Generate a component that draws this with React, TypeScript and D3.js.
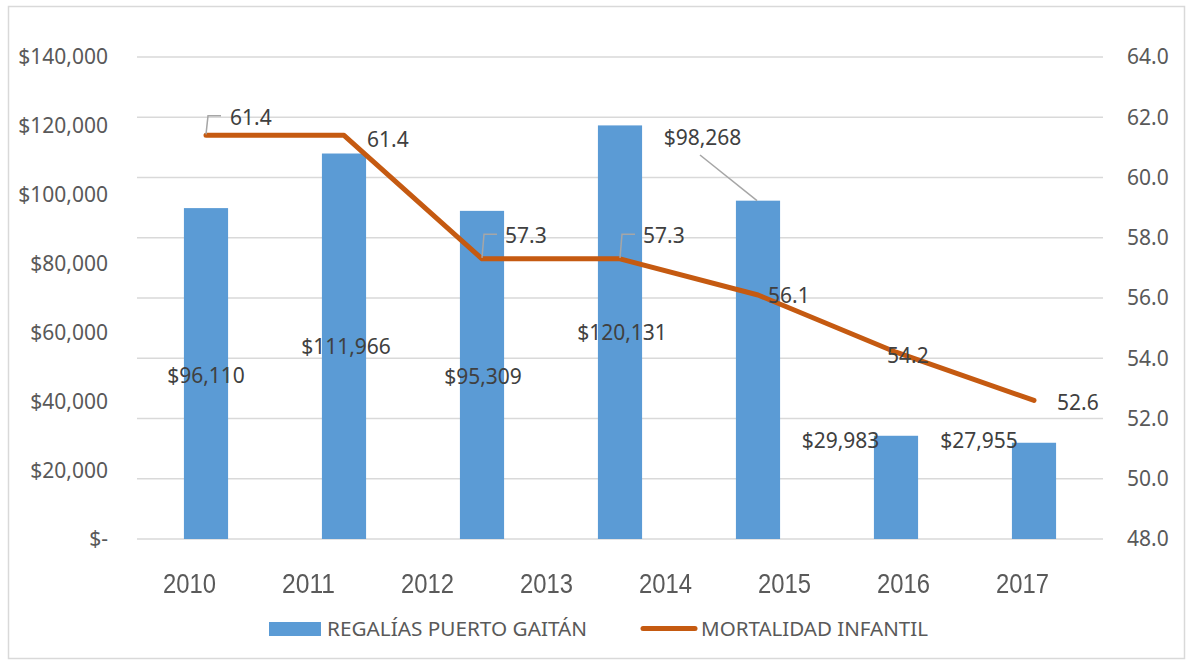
import React from "react";
import * as d3 from "d3";

// ---- data ----
const axisYears = ["2010", "2011", "2012", "2013", "2014", "2015", "2016", "2017"];
const seriesYears = ["2010", "2011", "2012", "2013", "2014", "2015", "2016"];
const regalias = [96110, 111966, 95309, 120131, 98268, 29983, 27955];
const mortalidad = [61.4, 61.4, 57.3, 57.3, 56.1, 54.2, 52.6];
const leftTicks = [0, 20000, 40000, 60000, 80000, 100000, 120000, 140000];
const rightTicks = [48, 50, 52, 54, 56, 58, 60, 62, 64];
const legendLabels = ["REGALÍAS PUERTO GAITÁN", "MORTALIDAD INFANTIL"];

// ---- label layout (offsets, not data) ----
// bar labels: [dx from bar centre, dy of label centre from bar top]
const barLabelOffsets: [number, number][] = [
  [0, 167], [2, 193], [1, 166], [2, 207], [-55.5, -62.7], [-55.5, 5], [-55, -2],
];
// line labels: [dx of text start from point, dy of label centre from point, leader]
const lineLabelOffsets: [number, number, boolean][] = [
  [24, -18, true], [23, 4, false], [23, -23, true], [23, -23, true],
  [10, 1, false], [-9, 3, false], [23, 2, false],
];

const W = 1188;
const H = 662;
const plotLeft = 137;
const plotRight = 1103;
const plotTop = 57;
const plotBottom = 539;

const BAR = "#5B9BD5";
const LINE = "#C55A11";
const GRID = "#D9D9D9";
const AXIS_TXT = "#595959";
const LBL_TXT = "#404040";
const FONT = "'Noto Sans', 'Open Sans', sans-serif";
const FS = 21;

const fmtMoney = (v: number) => (v === 0 ? "$-" : "$" + d3.format(",")(v));

export default function App() {
  const xBand = d3.scaleBand<string>().domain(seriesYears).range([plotLeft, plotRight]);
  const xAxisBand = d3.scaleBand<string>().domain(axisYears).range([130, 1082]);
  const yL = d3.scaleLinear().domain([0, 140000]).range([plotBottom, plotTop]);
  const yR = d3.scaleLinear().domain([48, 64]).range([plotBottom, plotTop]);
  const bw = xBand.bandwidth() * 0.32;
  const cx = (c: string) => (xBand(c) as number) + xBand.bandwidth() / 2;

  const lineGen = d3
    .line<number>()
    .x((_, i) => cx(seriesYears[i]))
    .y((d) => yR(d));

  const base = 0.357 * FS;

  return (
    <svg
      width={W}
      height={H}
      style={{ position: "absolute", left: 0, top: 0, background: "#fff" }}
      fontFamily={FONT}
    >
      <defs>
        <filter id="soft" x="-10%" y="-10%" width="120%" height="120%">
          <feGaussianBlur stdDeviation="0.45" />
        </filter>
      </defs>
      <rect x={0} y={0} width={W} height={H} fill="#fff" />
      <rect x={8.5} y={6.5} width={1176} height={652} fill="none" stroke={GRID} strokeWidth={1.5} />

      {/* gridlines */}
      {rightTicks.map((t) => (
        <line key={"g" + t} x1={plotLeft} x2={plotRight} y1={yR(t)} y2={yR(t)} stroke={GRID} strokeWidth={1.5} />
      ))}

      {/* left axis labels */}
      {leftTicks.map((t) => (
        <text key={"l" + t} x={108} y={yL(t) + base} textAnchor="end" fontSize={FS} fill={AXIS_TXT}>
          {fmtMoney(t)}
        </text>
      ))}

      {/* right axis labels */}
      {rightTicks.map((t) => (
        <text key={"r" + t} x={1127} y={yR(t) + base} textAnchor="start" fontSize={FS} fill={AXIS_TXT}>
          {d3.format(".1f")(t)}
        </text>
      ))}

      {/* x axis labels */}
      <g filter="url(#soft)">
        {axisYears.map((y) => (
          <text
            key={"x" + y}
            x={(xAxisBand(y) as number) + xAxisBand.bandwidth() / 2}
            y={593}
            textAnchor="middle"
            fontFamily="'Liberation Sans', Arial, sans-serif"
            fontSize={28}
            textLength={53}
            lengthAdjust="spacingAndGlyphs"
            fill="#5a5a5a"
          >
            {y}
          </text>
        ))}
      </g>

      {/* bars */}
      {regalias.map((v, i) => (
        <rect
          key={"b" + i}
          x={cx(seriesYears[i]) - bw / 2}
          y={yL(v)}
          width={bw}
          height={yL(0) - yL(v)}
          fill={BAR}
        />
      ))}

      {/* bar labels */}
      {regalias.map((v, i) => {
        const [dx, dy] = barLabelOffsets[i];
        const tx = cx(seriesYears[i]) + dx;
        const ty = yL(v) + dy;
        return (
          <g key={"bl" + i}>
            {dy < -20 && (
              <line
                x1={tx - 2.5}
                y1={ty + 17}
                x2={cx(seriesYears[i]) - 1}
                y2={yL(v)}
                stroke="#A6A6A6"
                strokeWidth={1.5}
              />
            )}
            <text x={tx} y={ty + base} textAnchor="middle" fontSize={FS} fill={LBL_TXT}>
              {fmtMoney(v)}
            </text>
          </g>
        );
      })}

      {/* line */}
      <path d={lineGen(mortalidad) as string} fill="none" stroke={LINE} strokeWidth={5} strokeLinejoin="round" strokeLinecap="round" />

      {/* line labels */}
      {mortalidad.map((v, i) => {
        const [dx, dy, leader] = lineLabelOffsets[i];
        const px = cx(seriesYears[i]);
        const py = yR(v);
        const ty = py + dy;
        return (
          <g key={"ll" + i}>
            {leader && (
              <path
                d={`M${px},${py - 1} L${px + 2},${ty - 1.5} L${px + 15},${ty - 1.5}`}
                fill="none"
                stroke="#A6A6A6"
                strokeWidth={1.5}
              />
            )}
            <text x={px + dx} y={ty + base} textAnchor="start" fontSize={FS} fill={LBL_TXT}>
              {d3.format(".1f")(v)}
            </text>
          </g>
        );
      })}

      {/* legend */}
      <rect x={269} y={622} width={52} height={14} fill={BAR} />
      <text x={327} y={636} fontSize={20.5} fill={AXIS_TXT} textLength={260} lengthAdjust="spacingAndGlyphs">
        {legendLabels[0]}
      </text>
      <line x1={643} x2={695} y1={628.5} y2={628.5} stroke={LINE} strokeWidth={5} strokeLinecap="round" />
      <text x={701} y={636} fontSize={20.5} fill={AXIS_TXT} textLength={227} lengthAdjust="spacingAndGlyphs">
        {legendLabels[1]}
      </text>
    </svg>
  );
}
